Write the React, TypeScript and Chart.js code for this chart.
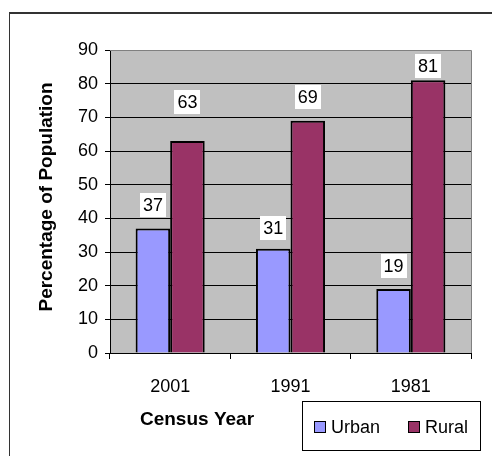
import { useEffect, useRef } from 'react';
import { Chart, registerables } from 'chart.js';

Chart.register(...registerables);

// Census shares of population (%), by census year
const censusYears = ['2001', '1991', '1981'];
const urbanShare = [37, 31, 19];
const ruralShare = [63, 69, 81];
const seriesNames = ['Urban', 'Rural'];
const seriesColors = ['#9999ff', '#993366'];

const yAxisMax = 90;
const yAxisStep = 10;

const xAxisTitle = 'Census Year';
const yAxisTitle = 'Percentage of Population';

const FONT = '"Liberation Sans", Arial, sans-serif';

// Draws the page frame, plot background, value boxes, axis titles and legend
const decorPlugin = {
  id: 'decor',
  beforeDraw(chart: any) {
    const { ctx, chartArea: a, width, height } = chart;
    ctx.save();
    ctx.fillStyle = '#ffffff';
    ctx.fillRect(0, 0, width, height);
    // outer frame (runs off the right and bottom edges)
    ctx.fillStyle = '#333333';
    ctx.fillRect(9, 12, width - 9, 2);
    ctx.fillRect(9, 12, 1, height - 12);
    // plot area
    ctx.fillStyle = '#c0c0c0';
    ctx.fillRect(a.left, a.top, a.right - a.left, a.bottom - a.top);
    ctx.restore();
  },
  beforeDatasetsDraw(chart: any) {
    const { ctx, chartArea: a } = chart;
    ctx.save();
    ctx.strokeStyle = '#808080';
    ctx.lineWidth = 1;
    ctx.beginPath();
    ctx.moveTo(a.left, a.top + 0.5);
    ctx.lineTo(a.right + 0.5, a.top + 0.5);
    ctx.lineTo(a.right + 0.5, a.bottom);
    ctx.stroke();
    ctx.restore();
  },
  afterDatasetsDraw(chart: any, _args: any, opts: any) {
    const { ctx } = chart;
    ctx.save();
    ctx.font = `18px ${FONT}`;
    ctx.textAlign = 'center';
    ctx.textBaseline = 'middle';
    chart.data.datasets.forEach((ds: any, i: number) => {
      const meta = chart.getDatasetMeta(i);
      const lifts: number[] = opts.lift[i];
      meta.data.forEach((el: any, j: number) => {
        const text = String(ds.data[j]);
        const w = ctx.measureText(text).width;
        const cy = el.y - lifts[j];
        ctx.fillStyle = '#ffffff';
        ctx.fillRect(Math.round(el.x - w / 2 - 3), Math.round(cy - 12), Math.round(w + 6), 24);
        ctx.fillStyle = '#000000';
        ctx.fillText(text, el.x, cy + 1);
      });
    });
    ctx.restore();
  },
  afterDraw(chart: any) {
    const { ctx } = chart;
    ctx.save();
    ctx.fillStyle = '#000000';
    ctx.font = `bold 19px ${FONT}`;
    ctx.textAlign = 'center';
    ctx.textBaseline = 'middle';
    ctx.fillText(xAxisTitle, 197, 420);
    ctx.save();
    ctx.translate(47, 197);
    ctx.rotate(-Math.PI / 2);
    ctx.fillText(yAxisTitle, 0, 0);
    ctx.restore();

    // legend
    ctx.strokeStyle = '#000000';
    ctx.lineWidth = 1;
    ctx.strokeRect(302.5, 401.5, 178, 49);
    ctx.font = `18px ${FONT}`;
    ctx.textAlign = 'left';
    const swatchX = [314, 408];
    chart.data.datasets.forEach((ds: any, i: number) => {
      const sx = swatchX[i];
      ctx.fillStyle = ds.backgroundColor;
      ctx.fillRect(sx, 421, 11, 11);
      ctx.strokeRect(sx + 0.5, 421.5, 11, 11);
      ctx.fillStyle = '#000000';
      ctx.fillText(ds.label, sx + 17, 428);
    });
    ctx.restore();
  },
};

export default function App() {
  const canvasRef = useRef<HTMLCanvasElement | null>(null);

  useEffect(() => {
    document.body.style.margin = '0';
    const canvas = canvasRef.current;
    if (!canvas) return;
    const chart = new Chart(canvas, {
      type: 'bar',
      data: {
        labels: censusYears,
        datasets: [
          {
            label: seriesNames[0],
            data: urbanShare,
            backgroundColor: seriesColors[0],
            borderColor: '#000000',
            borderWidth: 2,
          },
          {
            label: seriesNames[1],
            data: ruralShare,
            backgroundColor: seriesColors[1],
            borderColor: '#000000',
            borderWidth: 2,
          },
        ],
      },
      options: {
        responsive: false,
        animation: false,
        events: [],
        devicePixelRatio: 1,
        layout: { padding: { top: 50, right: 21, left: 0, bottom: 0 } },
        datasets: {
          bar: { barPercentage: 1, categoryPercentage: 0.574 },
        },
        plugins: {
          legend: { display: false },
          tooltip: { enabled: false },
          decor: { lift: [[23, 21, 23], [39, 24, 14]] },
        } as any,
        scales: {
          x: {
            offset: true,
            afterFit: (s: any) => { s.height = 103; },
            grid: {
              drawOnChartArea: false,
              drawTicks: true,
              tickLength: 6,
              tickColor: '#000000',
              offset: true,
            },
            border: { color: '#000000', width: 1 },
            ticks: {
              color: '#000000',
              padding: 17,
              font: { family: FONT, size: 18 },
            },
          },
          y: {
            min: 0,
            max: yAxisMax,
            afterFit: (s: any) => { s.width = 110; },
            grid: {
              color: (c: any) => (c.tick && c.tick.value === yAxisMax ? '#808080' : '#000000'),
              tickColor: '#000000',
              tickLength: 5,
              lineWidth: 1,
            },
            border: { color: '#000000', width: 1 },
            ticks: {
              stepSize: yAxisStep,
              color: '#000000',
              padding: 7,
              font: { family: FONT, size: 18 },
            },
          },
        },
      },
      plugins: [decorPlugin],
    });
    return () => chart.destroy();
  }, []);

  return <canvas ref={canvasRef} width={492} height={456} style={{ display: 'block' }} />;
}
